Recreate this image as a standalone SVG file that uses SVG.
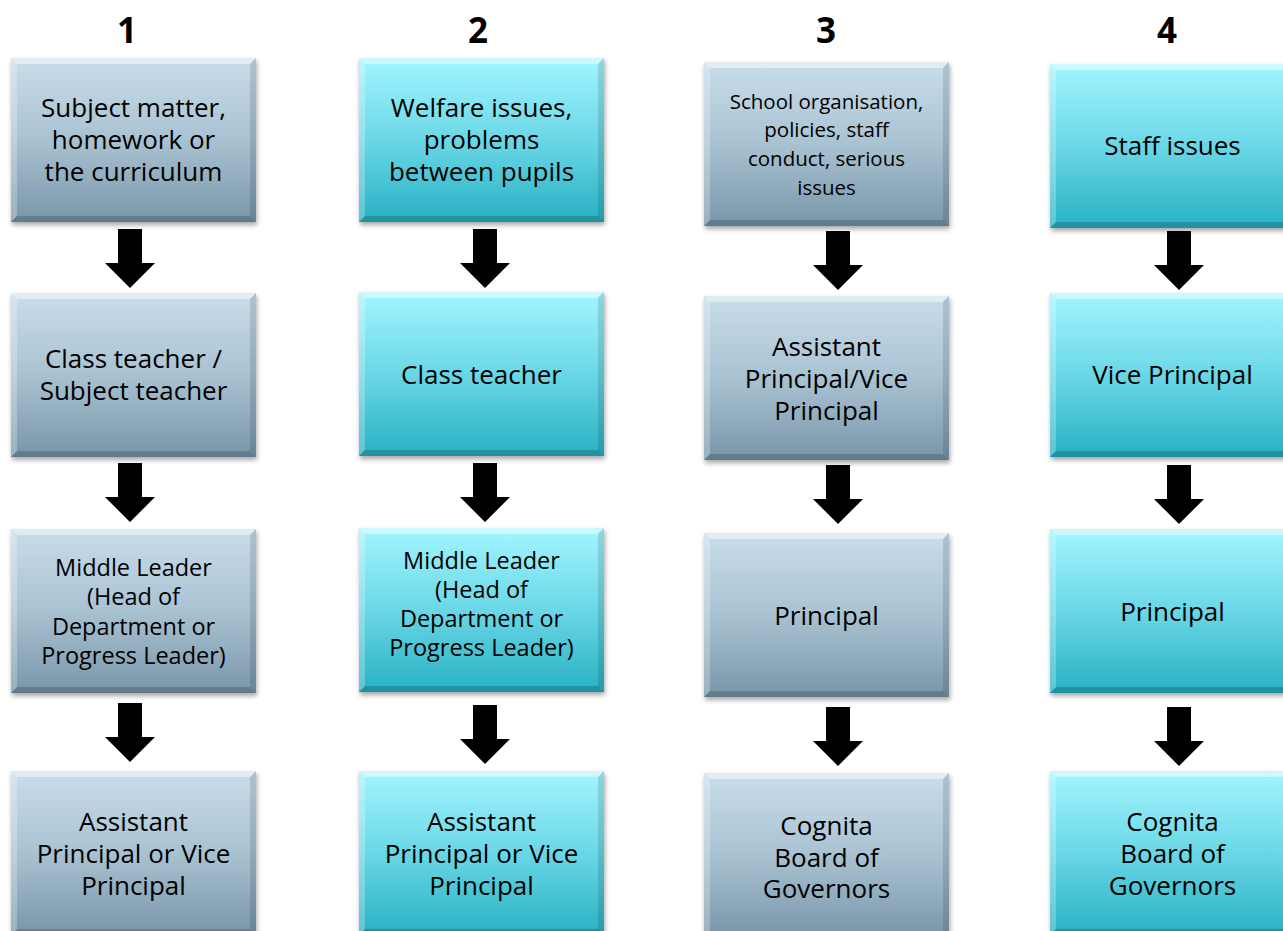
<svg xmlns="http://www.w3.org/2000/svg" xmlns:xlink="http://www.w3.org/1999/xlink" width="1283" height="931" viewBox="0 0 1283 931">
<style>
text{font-family:"Open Sans","Noto Sans","DejaVu Sans",sans-serif;fill:#000;text-anchor:middle}
.h{font-size:35px;font-weight:bold}
.t{font-size:26px}
.m{font-size:23.5px}
.s{font-size:20.5px}
.grey{fill:url(#gGrey)}
.cyan{fill:url(#gCyan)}
.bt{fill:#fff;opacity:.45}
.bl{fill:#fff;opacity:.25}
.bb{fill:#000;opacity:.18}
.br{fill:#000;opacity:.12}
.arrow{fill:#000}
</style>
<defs>
<linearGradient id="gGrey" x1="0" y1="0" x2="0" y2="1">
<stop offset="0" stop-color="#c9ddea"/>
<stop offset="0.5" stop-color="#a9c2d2"/>
<stop offset="1" stop-color="#7896a9"/>
</linearGradient>
<linearGradient id="gCyan" x1="0" y1="0" x2="0" y2="1">
<stop offset="0" stop-color="#a3f5ff"/>
<stop offset="0.5" stop-color="#6ad7e6"/>
<stop offset="1" stop-color="#27b1c3"/>
</linearGradient>
<filter id="sh" x="-10%" y="-10%" width="125%" height="130%">
<feDropShadow dx="1" dy="3" stdDeviation="2.5" flood-color="#000" flood-opacity="0.35"/>
</filter>
<g id="bevel">
<polygon class="bt" points="0,0 245,0 239,6 6,6"/>
<polygon class="bl" points="0,0 6,6 6,158 0,164"/>
<polygon class="bb" points="0,164 6,158 239,158 245,164"/>
<polygon class="br" points="245,0 245,164 239,158 239,6"/>
</g>
<path id="arr" d="M-12,0 H12 V34 H25 L0,59 L-25,34 H-12 Z"/>
</defs>

<g id="headers">
<text class="h" x="127" y="43">1</text>
<text class="h" x="478" y="43">2</text>
<text class="h" x="826" y="43">3</text>
<text class="h" x="1167" y="43">4</text>
</g>

<g id="c1r1" transform="translate(11,58)">
<rect class="grey" width="245" height="164" filter="url(#sh)"/><use xlink:href="#bevel"/>
<text class="t" x="122.5" y="59">Subject matter,</text>
<text class="t" x="122.5" y="91">homework or</text>
<text class="t" x="122.5" y="123">the curriculum</text>
</g>
<g id="c1r2" transform="translate(11,293)">
<rect class="grey" width="245" height="164" filter="url(#sh)"/><use xlink:href="#bevel"/>
<text class="t" x="122.5" y="75">Class teacher /</text>
<text class="t" x="122.5" y="107">Subject teacher</text>
</g>
<g id="c1r3" transform="translate(11,529)">
<rect class="grey" width="245" height="164" filter="url(#sh)"/><use xlink:href="#bevel"/>
<text class="m" x="122.5" y="47">Middle Leader</text>
<text class="m" x="122.5" y="76">(Head of</text>
<text class="m" x="122.5" y="106">Department or</text>
<text class="m" x="122.5" y="135">Progress Leader)</text>
</g>
<g id="c1r4" transform="translate(11,771)">
<rect class="grey" width="245" height="164" filter="url(#sh)"/><use xlink:href="#bevel"/>
<text class="t" x="122.5" y="60">Assistant</text>
<text class="t" x="122.5" y="92">Principal or Vice</text>
<text class="t" x="122.5" y="124">Principal</text>
</g>

<g id="c2r1" transform="translate(359,58)">
<rect class="cyan" width="245" height="164" filter="url(#sh)"/><use xlink:href="#bevel"/>
<text class="t" x="122.5" y="59">Welfare issues,</text>
<text class="t" x="122.5" y="91">problems</text>
<text class="t" x="122.5" y="123">between pupils</text>
</g>
<g id="c2r2" transform="translate(359,292)">
<rect class="cyan" width="245" height="164" filter="url(#sh)"/><use xlink:href="#bevel"/>
<text class="t" x="122.5" y="92">Class teacher</text>
</g>
<g id="c2r3" transform="translate(359,528)">
<rect class="cyan" width="245" height="164" filter="url(#sh)"/><use xlink:href="#bevel"/>
<text class="m" x="122.5" y="41">Middle Leader</text>
<text class="m" x="122.5" y="70">(Head of</text>
<text class="m" x="122.5" y="99">Department or</text>
<text class="m" x="122.5" y="128">Progress Leader)</text>
</g>
<g id="c2r4" transform="translate(359,771)">
<rect class="cyan" width="245" height="164" filter="url(#sh)"/><use xlink:href="#bevel"/>
<text class="t" x="122.5" y="60">Assistant</text>
<text class="t" x="122.5" y="92">Principal or Vice</text>
<text class="t" x="122.5" y="124">Principal</text>
</g>

<g id="c3r1" transform="translate(704,62)">
<rect class="grey" width="245" height="164" filter="url(#sh)"/><use xlink:href="#bevel"/>
<text class="s" x="122.5" y="47">School organisation,</text>
<text class="s" x="122.5" y="75">policies, staff</text>
<text class="s" x="122.5" y="104">conduct, serious</text>
<text class="s" x="122.5" y="133">issues</text>
</g>
<g id="c3r2" transform="translate(704,296)">
<rect class="grey" width="245" height="164" filter="url(#sh)"/><use xlink:href="#bevel"/>
<text class="t" x="122.5" y="60">Assistant</text>
<text class="t" x="122.5" y="92">Principal/Vice</text>
<text class="t" x="122.5" y="124">Principal</text>
</g>
<g id="c3r3" transform="translate(704,533)">
<rect class="grey" width="245" height="164" filter="url(#sh)"/><use xlink:href="#bevel"/>
<text class="t" x="122.5" y="92">Principal</text>
</g>
<g id="c3r4" transform="translate(704,773)">
<rect class="grey" width="245" height="164" filter="url(#sh)"/><use xlink:href="#bevel"/>
<text class="t" x="122.5" y="62">Cognita</text>
<text class="t" x="122.5" y="94">Board of</text>
<text class="t" x="122.5" y="125">Governors</text>
</g>

<g id="c4r1" transform="translate(1050,64)">
<rect class="cyan" width="245" height="164" filter="url(#sh)"/><use xlink:href="#bevel"/>
<text class="t" x="122.5" y="91">Staff issues</text>
</g>
<g id="c4r2" transform="translate(1050,293)">
<rect class="cyan" width="245" height="164" filter="url(#sh)"/><use xlink:href="#bevel"/>
<text class="t" x="122.5" y="91">Vice Principal</text>
</g>
<g id="c4r3" transform="translate(1050,529)">
<rect class="cyan" width="245" height="164" filter="url(#sh)"/><use xlink:href="#bevel"/>
<text class="t" x="122.5" y="92">Principal</text>
</g>
<g id="c4r4" transform="translate(1050,771)">
<rect class="cyan" width="245" height="164" filter="url(#sh)"/><use xlink:href="#bevel"/>
<text class="t" x="122.5" y="60">Cognita</text>
<text class="t" x="122.5" y="92">Board of</text>
<text class="t" x="122.5" y="124">Governors</text>
</g>

<g id="connectors" class="arrow">
<use xlink:href="#arr" transform="translate(130,229)"/>
<use xlink:href="#arr" transform="translate(130,463)"/>
<use xlink:href="#arr" transform="translate(130,703)"/>
<use xlink:href="#arr" transform="translate(485,229)"/>
<use xlink:href="#arr" transform="translate(485,463)"/>
<use xlink:href="#arr" transform="translate(485,705)"/>
<use xlink:href="#arr" transform="translate(838,231)"/>
<use xlink:href="#arr" transform="translate(838,465)"/>
<use xlink:href="#arr" transform="translate(838,707)"/>
<use xlink:href="#arr" transform="translate(1179,231)"/>
<use xlink:href="#arr" transform="translate(1179,465)"/>
<use xlink:href="#arr" transform="translate(1179,707)"/>
</g>
</svg>
